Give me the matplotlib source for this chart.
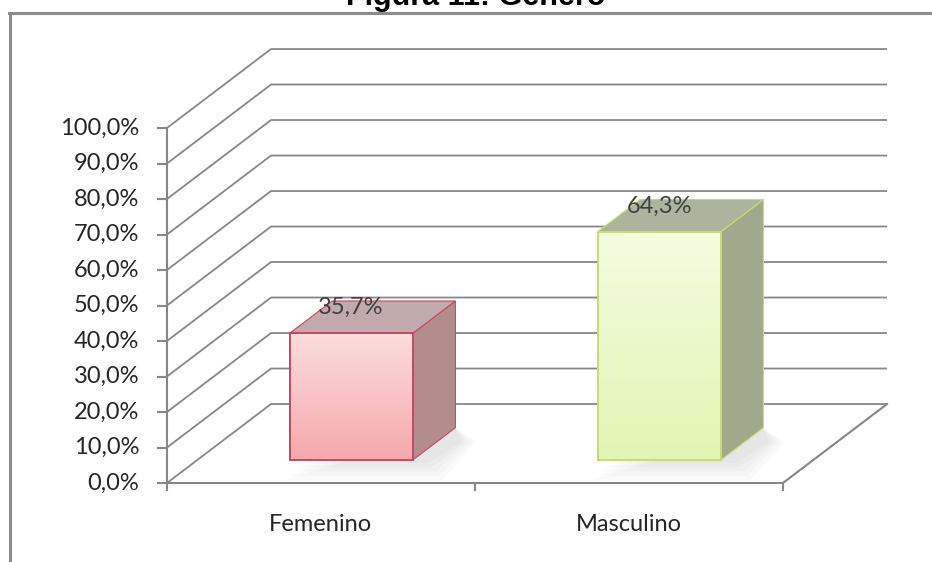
import numpy as np
import matplotlib
matplotlib.use("Agg")
import matplotlib.pyplot as plt
from matplotlib.patches import Polygon
from matplotlib.lines import Line2D

# datos
categorias = ["Femenino", "Masculino"]
porcentajes = [35.7, 64.3]
ticks_y = [0, 10, 20, 30, 40, 50, 60, 70, 80, 90, 100]
etiquetas_y = ["0,0%", "10,0%", "20,0%", "30,0%", "40,0%", "50,0%",
               "60,0%", "70,0%", "80,0%", "90,0%", "100,0%"]
titulo = "Figura 11: Género"

# perspectiva falsa (profundidad en unidades de datos)
DX, DY = 0.338, 22.25
D0, D1 = 0.29, 0.70          # fraccion de profundidad de las barras
ANCHO = 0.40
GRIS = "#878787"

estilos = [
    dict(top="#fcdcdc", bot="#f6a9ac", borde="#c8475e", lado="#b38c8e", tapa="#c0aaab"),
    dict(top="#f4fce0", bot="#e2f5b4", borde="#c6dc70", lado="#a0a98b", tapa="#acb49e"),
]

fig = plt.figure(figsize=(9.32, 5.62), dpi=100)
fig.patch.set_facecolor("white")
ax = fig.add_axes([0, 0, 1, 1])
ax.set_axis_off()

fuente = "Lato"
tam = 17

# pared del fondo + lineas de division
for v in ticks_y:
    ax.plot([0, DX, 2 + DX], [v, v + DY, v + DY], color=GRIS, lw=1.3, zorder=1,
            solid_capstyle="butt")
# piso
ax.plot([0, 2, 2 + DX], [0, 0, DY], color=GRIS, lw=1.5, zorder=1)
# eje vertical y marcas
ax.plot([0, 0], [0, 100], color=GRIS, lw=1.5, zorder=1)
for v, lab in zip(ticks_y, etiquetas_y):
    ax.plot([-0.03, 0], [v, v], color=GRIS, lw=1.5, zorder=1)
    ax.text(-0.09, v, lab, ha="right", va="center", fontsize=tam,
            family=fuente, color="#262626")
for xc in range(3):
    ax.plot([xc, xc], [0, -2.0], color=GRIS, lw=1.5, zorder=1)

# barras
for i, (cat, val) in enumerate(zip(categorias, porcentajes)):
    st = estilos[i]
    x0 = i + 0.5 - ANCHO / 2 + D0 * DX
    x1 = x0 + ANCHO
    y0 = D0 * DY
    y1 = y0 + val
    ddx, ddy = (D1 - D0) * DX, (D1 - D0) * DY

    # sombra suave bajo la barra
    for k in range(5):
        e = 0.012 * k
        ax.add_patch(Polygon([(x0 + 0.03 - e, y0 - 0.8 - 1.2 * k),
                              (x1 + 0.05 + e, y0 - 0.8 - 1.2 * k),
                              (x1 + ddx + 0.02 + e, y0 + ddy - 4),
                              (x1 + ddx, y0 + ddy)],
                             closed=True, facecolor="#000000", alpha=0.018,
                             edgecolor="none", zorder=2))

    # cara lateral
    ax.add_patch(Polygon([(x1, y0), (x1 + ddx, y0 + ddy), (x1 + ddx, y1 + ddy), (x1, y1)],
                         closed=True, facecolor=st["lado"], edgecolor=st["borde"],
                         lw=0.8, zorder=3))
    # tapa
    ax.add_patch(Polygon([(x0, y1), (x1, y1), (x1 + ddx, y1 + ddy), (x0 + ddx, y1 + ddy)],
                         closed=True, facecolor=st["tapa"], edgecolor=st["borde"],
                         lw=0.8, zorder=3))
    # cara frontal con degradado
    c_top = np.array(matplotlib.colors.to_rgb(st["top"]))
    c_bot = np.array(matplotlib.colors.to_rgb(st["bot"]))
    t = np.linspace(0, 1, 64)[:, None, None]
    grad = c_top * (1 - t) + c_bot * t
    grad = np.repeat(grad, 4, axis=1)
    ax.imshow(grad, extent=(x0, x1, y0, y1), origin="upper", aspect="auto",
              zorder=4, interpolation="bilinear")
    ax.add_patch(Polygon([(x0, y0), (x1, y0), (x1, y1), (x0, y1)], closed=True,
                         facecolor="none", edgecolor=st["borde"], lw=1.4, zorder=5))

    ax.text(i + 0.5 + D0 * DX, y1 + 7.3, f"{val:.1f}%".replace(".", ","),
            ha="center", va="center", fontsize=tam, family=fuente, color="#404040",
            zorder=6)
    ax.text(i + 0.5, -11.8, cat, ha="center", va="center", fontsize=tam,
            family=fuente, color="#262626")

ax.set_xlim(-0.542, 2.484)
ax.set_ylim(-22.25, 136.06)

# marco del area del grafico
fig.add_artist(Line2D([10 / 932, 10 / 932], [0, 1 - 13 / 562], color="#8c8c8c", lw=2.2))
fig.add_artist(Line2D([9 / 932, 1], [1 - 13 / 562, 1 - 13 / 562], color="#8c8c8c", lw=2.2))

fig.text(476 / 932, 1 - 5 / 562, titulo, ha="center", va="baseline", fontsize=22,
         fontweight="bold", family="Liberation Sans", color="black")

fig.savefig("out.png", dpi=100)
